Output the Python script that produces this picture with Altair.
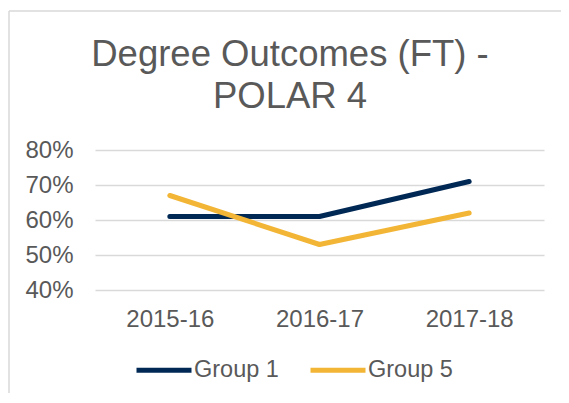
import altair as alt
import pandas as pd

years = ["2015-16", "2016-17", "2017-18"]
group1 = [0.61, 0.61, 0.71]
group5 = [0.67, 0.53, 0.62]
series_names = ["Group 1", "Group 5"]
colors = ["#002855", "#F2B535"]
y_ticks = [0.4, 0.5, 0.6, 0.7, 0.8]
title_lines = ["Degree Outcomes (FT) -", "POLAR 4"]

rows = []
for name, vals in zip(series_names, [group1, group5]):
    for yr, v in zip(years, vals):
        rows.append({"Year": yr, "Value": v, "Series": name})
df = pd.DataFrame(rows)
one = pd.DataFrame({"k": [0]})

FONT = "Liberation Sans"
TXT = "#595959"

lines = alt.Chart(df).mark_line(strokeWidth=5, strokeCap="round", strokeJoin="round").encode(
    x=alt.X("Year:N", sort=years,
            scale=alt.Scale(paddingInner=0, paddingOuter=0),
            axis=alt.Axis(title=None, labelAngle=0, domain=False, ticks=False,
                          labelFontSize=24, labelColor=TXT, labelFont=FONT,
                          labelPadding=17, grid=False)),
    y=alt.Y("Value:Q", scale=alt.Scale(domain=[0.4, 0.8], nice=False, zero=False),
            axis=alt.Axis(title=None, values=y_ticks, format=".0%", domain=False, ticks=False,
                          labelFontSize=24, labelColor=TXT, labelFont=FONT, labelPadding=22,
                          gridColor="#d9d9d9", gridWidth=1.5)),
    color=alt.Color("Series:N", scale=alt.Scale(domain=series_names, range=colors),
                    legend=alt.Legend(title=None, orient="none", legendX=39, legendY=190,
                                      direction="horizontal", columns=2,
                                      symbolType="stroke", symbolSize=3025,
                                      symbolStrokeWidth=5, labelFontSize=23.5,
                                      labelColor=TXT, labelFont=FONT, labelOffset=0,
                                      columnPadding=21)),
)

frame_left = alt.Chart(one).mark_rule(color="#d9d9d9", strokeWidth=1.5).encode(
    x=alt.value(-86), y=alt.value(-139), y2=alt.value(260))
frame_top = alt.Chart(one).mark_rule(color="#d9d9d9", strokeWidth=1.5).encode(
    x=alt.value(-86), x2=alt.value(480), y=alt.value(-139))

title = alt.Chart(one).mark_text(fontSize=36.5, font=FONT, color=TXT, align="center",
                                 baseline="alphabetic", lineHeight=42).encode(
    x=alt.value(195), y=alt.value(-84), text=alt.value(title_lines))

chart = alt.layer(frame_left, frame_top, title, lines).properties(
    width=449, height=140,
    autosize=alt.AutoSizeParams(type="none"),
    padding={"left": 87, "top": 142, "right": 17, "bottom": 103},
).configure_view(stroke=None)

chart.save("out.html", embed_options={"renderer": "svg", "actions": False})
